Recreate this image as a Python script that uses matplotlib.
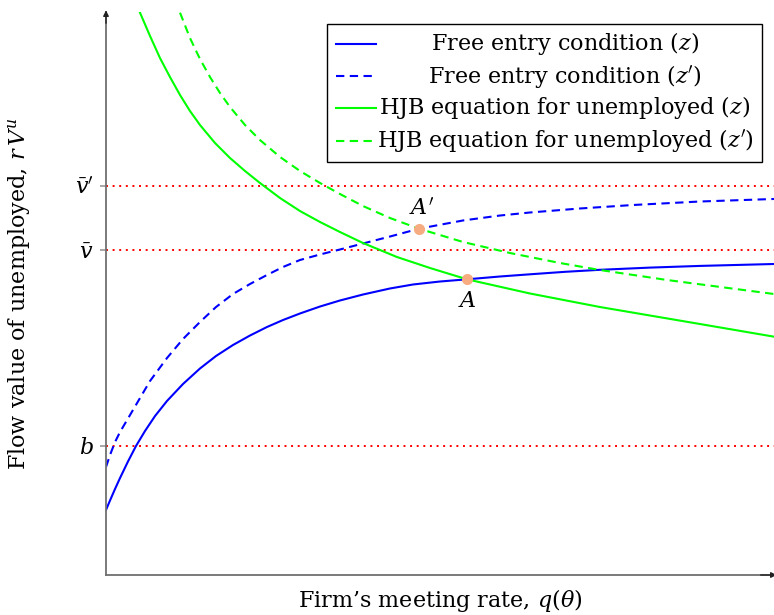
import numpy as np
import matplotlib
matplotlib.use('Agg')
import matplotlib.pyplot as plt
##################################################################
matplotlib.rcParams.update({'font.family': 'DejaVu Serif', 'mathtext.fontset': 'dejavuserif'})
##################################################################

# curves (x: firm's meeting rate, y: flow value), arbitrary units
fe_z_x = [0, 0.060, 0.135, 0.210, 0.329, 0.449, 0.584, 0.734, 0.913, 1.153, 1.407, 1.647, 1.901, 2.156,
          2.410, 2.650, 2.904, 3.204, 3.503, 3.847, 4.251, 4.596, 5.0, 5.404, 5.898, 6.347, 6.871, 7.395,
          8.144, 8.892, 10.0]
fe_z_y = [1.155, 1.323, 1.528, 1.723, 2.016, 2.291, 2.558, 2.824, 3.091, 3.393, 3.668, 3.890, 4.085, 4.254,
          4.405, 4.529, 4.645, 4.769, 4.876, 4.982, 5.089, 5.160, 5.213, 5.252, 5.302, 5.341, 5.385, 5.421,
          5.460, 5.490, 5.524]

fe_zp_x = [0, 0.060, 0.135, 0.210, 0.404, 0.659, 0.913, 1.153, 1.407, 1.647, 1.901, 2.156, 2.410, 2.650,
           2.904, 3.204, 3.503, 3.847, 4.251, 4.686, 5.344, 5.898, 6.347, 7.096, 7.889, 8.892, 10.0]
fe_zp_y = [1.918, 2.131, 2.362, 2.540, 2.931, 3.446, 3.854, 4.192, 4.494, 4.760, 4.991, 5.169, 5.329, 5.471,
           5.595, 5.693, 5.782, 5.888, 6.012, 6.151, 6.297, 6.385, 6.439, 6.510, 6.572, 6.634, 6.679]

hjb_z_x = [0.509, 0.659, 0.808, 0.958, 1.108, 1.257, 1.407, 1.632, 1.856, 2.081, 2.305, 2.605, 2.904,
           3.204, 3.503, 3.847, 4.356, 4.850, 5.404, 6.347, 7.395, 8.892, 10.0]
hjb_z_y = [9.988, 9.574, 9.183, 8.845, 8.526, 8.242, 7.993, 7.673, 7.407, 7.176, 6.963, 6.696, 6.465,
           6.270, 6.092, 5.897, 5.648, 5.453, 5.252, 5.000, 4.760, 4.458, 4.233]

hjb_zp_x = [1.108, 1.257, 1.407, 1.557, 1.707, 1.856, 2.081, 2.305, 2.605, 2.904, 3.204, 3.503, 3.847,
            4.251, 4.686, 5.344, 6.048, 6.796, 7.395, 8.398, 10.0]
hjb_zp_y = [9.988, 9.538, 9.165, 8.845, 8.561, 8.313, 7.993, 7.726, 7.425, 7.176, 6.963, 6.767, 6.554,
            6.341, 6.151, 5.915, 5.719, 5.542, 5.417, 5.240, 4.991]

# reference levels
b_level = 2.297
vbar = 5.767
vbar_p = 6.915
ytick_labels = [r'$b$', r'$\bar{v}$', r"$\bar{v}'$"]

# equilibria
A = (5.404, 5.252)
A_p = (4.686, 6.151)

labels = [r'Free entry condition $(z)$', r"Free entry condition $(z')$",
          r'HJB equation for unemployed $(z)$', r"HJB equation for unemployed $(z')$"]

##################################################################
plt.close('all')
fig = plt.figure(figsize=[7.74, 6.15], dpi=100)
ax = fig.add_axes([106/774, 1 - 575/615, 668/774, 563/615])

blue, green, red = '#0000ff', '#00ff00', '#ff0000'
lw = 1.5
styles = [(blue, '-'), (blue, (0, (4, 2.6))), (green, '-'), (green, (0, (4, 2.6)))]
series = [(fe_z_x, fe_z_y), (fe_zp_x, fe_zp_y), (hjb_z_x, hjb_z_y), (hjb_zp_x, hjb_zp_y)]

for lvl in [b_level, vbar, vbar_p]:
    ax.axhline(lvl, color=red, ls=(0, (1, 2.4)), lw=1.4, zorder=1)

for (xs, ys), (c, ls) in zip(series, styles):
    ax.plot(xs, ys, color=c, ls=ls, lw=lw, zorder=2, solid_joinstyle='round')

for pt in [A, A_p]:
    ax.plot(*pt, 'o', ms=7, color='#f7ab80', zorder=3)
ax.annotate(r'$A$', A, xytext=(0, -8), textcoords='offset points', ha='center', va='top', fontsize=16)
ax.annotate(r"$A'$", A_p, xytext=(2, 6), textcoords='offset points', ha='center', va='bottom', fontsize=16)

ax.set_xlim(0, 10)
ax.set_ylim(0, 10)
ax.set_xticks([])
ax.set_yticks([b_level, vbar, vbar_p])
ax.set_yticklabels(ytick_labels, fontsize=16)
ax.tick_params(axis='y', length=4, width=1.2, color='#999999', pad=5)

for s in ['top', 'right']:
    ax.spines[s].set_visible(False)
for s in ['left', 'bottom']:
    ax.spines[s].set_color('#707070')
    ax.spines[s].set_linewidth(1.3)

ax.annotate('', xy=(0, 1.003), xytext=(0, 0.98), xycoords='axes fraction',
            arrowprops=dict(arrowstyle='-|>', color='#222222', lw=1.0, mutation_scale=8, shrinkA=0, shrinkB=0))
ax.annotate('', xy=(1.004, 0), xytext=(0.98, 0), xycoords='axes fraction',
            arrowprops=dict(arrowstyle='-|>', color='#222222', lw=1.0, mutation_scale=8, shrinkA=0, shrinkB=0),
            annotation_clip=False)

ax.set_xlabel("Firm\u2019s meeting rate, $q(\\theta)$", fontsize=16, va='top')
ax.xaxis.set_label_coords(0.5, -0.022)
ax.set_ylabel(r'Flow value of unemployed, $r\,V^u$', fontsize=16, va='center')
ax.yaxis.set_label_coords(-0.129, 0.5)

##################################################################
# legend drawn by hand so the entries are centred like the original
x0, x1, y0, y1 = 0.3313, 0.9825, 0.7341, 0.9787
ax.add_patch(plt.Rectangle((x0, y0), x1 - x0, y1 - y0, transform=ax.transAxes, fill=True,
                           facecolor='white', edgecolor='black', lw=1.0, zorder=5))
rows = [0.9432, 0.8863, 0.8295, 0.7709]
for r, lab, (c, ls) in zip(rows, labels, styles):
    ax.plot([0.3439, 0.4042], [r, r], transform=ax.transAxes, color=c, ls=ls, lw=lw, zorder=6)
    ax.text(0.6871, r, lab, transform=ax.transAxes, ha='center', va='center', fontsize=16, zorder=6)

##################################################################
plt.savefig('out.png', dpi=100)
